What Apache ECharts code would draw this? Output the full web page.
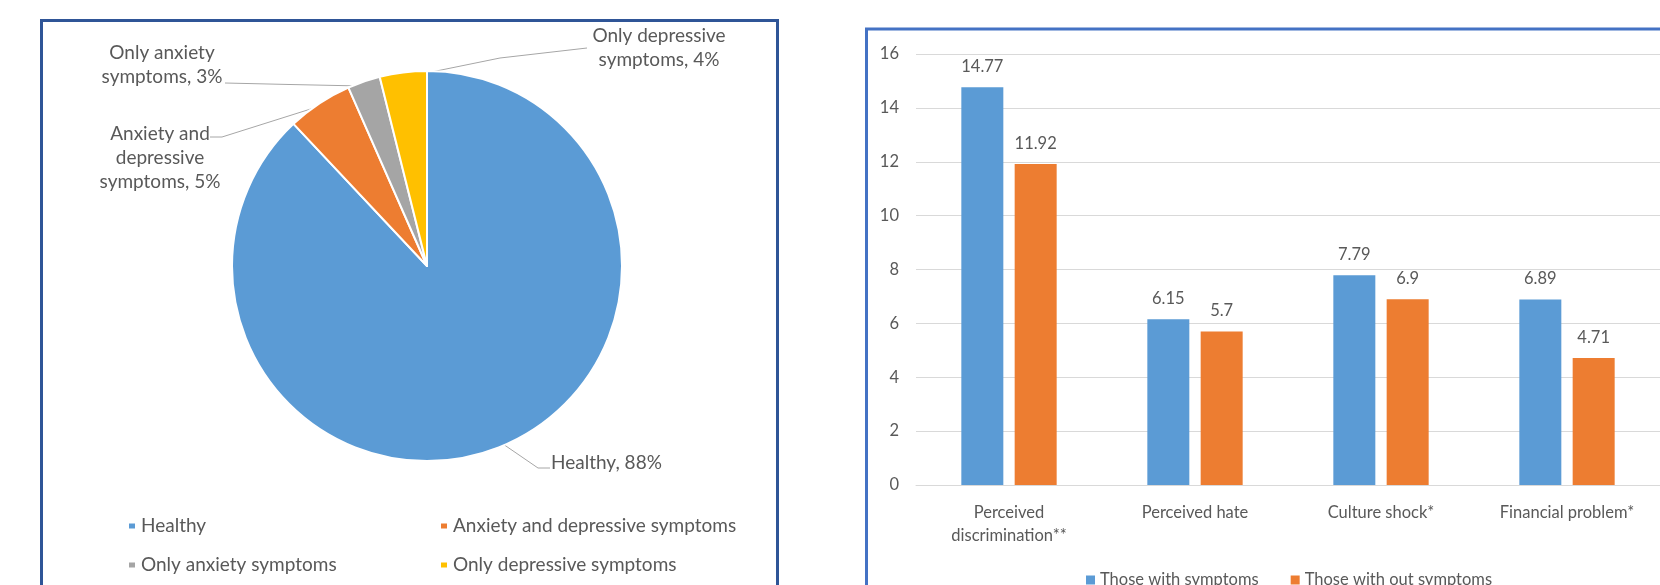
<!DOCTYPE html>
<html>
<head>
<meta charset="utf-8">
<script src="https://cdn.jsdelivr.net/npm/echarts@6/dist/echarts.min.js"></script>
<style>
html,body{margin:0;padding:0;background:#fff;}
#c{width:1660px;height:585px;}
</style>
</head>
<body>
<div id="c"></div>
<script>
// ---------- data ----------
const pieNames = ['Healthy', 'Anxiety and depressive symptoms', 'Only anxiety symptoms', 'Only depressive symptoms'];
const pieValues = [88.0, 5.4, 2.7, 3.9];
const pieLabelNames = ['Healthy', 'Anxiety and\ndepressive\nsymptoms', 'Only anxiety\nsymptoms', 'Only depressive\nsymptoms'];
const piePercentLabels = ['88%', '5%', '3%', '4%'];

const barCategories = ['Perceived\ndiscrimination**', 'Perceived hate', 'Culture shock*', 'Financial problem*'];
const withSymptoms = [14.77, 6.15, 7.79, 6.89];
const withoutSymptoms = [11.92, 5.7, 6.9, 4.71];
const seriesNames = ['Those with symptoms', 'Those with out symptoms'];
const yTicks = [0, 2, 4, 6, 8, 10, 12, 14, 16];

// ---------- styles / layout ----------
const FONT = 'Lato';
const TXT = '#595959';
const pieColors = ['#5B9BD5', '#ED7D31', '#A5A5A5', '#FFC000'];
const pieLabelLayout = [
  {x: 551, y: 463, align: 'left',   line: [[503, 444], [538, 468], [550, 468]]},
  {x: 160, y: 158, align: 'center', line: [[317, 107], [222, 137], [210, 137]]},
  {x: 162, y: 65,  align: 'center', line: [[362, 86], [290, 84.5], [225, 83]]},
  {x: 659, y: 48,  align: 'center', line: [[402, 78], [500, 58], [587, 48]]}
];
// legend slot positions for the pie (2 x 2 grid)
const pieLegendSlots = [[127, 516], [439, 516], [127, 555], [439, 555]];

const chart = echarts.init(document.getElementById('c'), null, {renderer: 'canvas'});

const pieLegends = pieNames.map((n, i) => ({
  data: [n], orient: 'horizontal', left: pieLegendSlots[i][0], top: pieLegendSlots[i][1], padding: 0,
  itemWidth: 8, itemHeight: 7, icon: 'rect',
  textStyle: {color: TXT, fontSize: 19, fontFamily: FONT, lineHeight: 20}
}));

const option = {
  animation: false,
  textStyle: {fontFamily: FONT},
  graphic: [
    {type: 'rect', shape: {x: 41.5, y: 20.5, width: 736, height: 620}, style: {fill: 'none', stroke: '#2F5597', lineWidth: 3}, z: 100},
    {type: 'rect', shape: {x: 866.5, y: 29, width: 900, height: 620}, style: {fill: 'none', stroke: '#4472C4', lineWidth: 3}, z: 100}
  ],
  legend: pieLegends.concat([
    {
      data: seriesNames, orient: 'horizontal', left: 1086, top: 570, padding: 0,
      itemWidth: 9, itemHeight: 9, itemGap: 32, icon: 'rect',
      textStyle: {color: TXT, fontSize: 16.5, fontFamily: FONT, lineHeight: 20}
    }
  ]),
  grid: {left: 916, top: 54, width: 756, bottom: 100, containLabel: false},
  xAxis: {
    type: 'category', data: barCategories,
    axisLine: {show: true, lineStyle: {color: '#D9D9D9', width: 1}},
    axisTick: {show: false},
    axisLabel: {color: TXT, fontSize: 16.5, fontFamily: FONT, lineHeight: 23, margin: 16, interval: 0}
  },
  yAxis: {
    type: 'value', min: yTicks[0], max: yTicks[yTicks.length - 1], interval: yTicks[1] - yTicks[0],
    axisLine: {show: false}, axisTick: {show: false},
    axisLabel: {color: TXT, fontSize: 16.5, fontFamily: FONT, margin: 17},
    splitLine: {lineStyle: {color: '#D9D9D9', width: 1}}
  },
  series: [
    {
      type: 'pie', center: [427, 266], radius: 195, startAngle: 90, clockwise: true,
      avoidLabelOverlap: false,
      data: pieNames.map((n, i) => ({name: n, value: pieValues[i], itemStyle: {color: pieColors[i]}})),
      itemStyle: {borderColor: '#fff', borderWidth: 2},
      label: {
        show: true, position: 'outside', color: TXT, fontSize: 19, fontFamily: FONT, lineHeight: 24,
        formatter: p => pieLabelNames[p.dataIndex] + ', ' + piePercentLabels[p.dataIndex]
      },
      labelLine: {show: true, length: 10, length2: 10, lineStyle: {color: '#A6A6A6', width: 1}},
      labelLayout: function (params) {
        const l = pieLabelLayout[params.dataIndex];
        return {x: l.x, y: l.y, align: l.align, verticalAlign: 'middle', labelLinePoints: l.line};
      },
      emphasis: {disabled: true}
    },
    {
      type: 'bar', name: seriesNames[0], data: withSymptoms, barWidth: 42, barGap: '27%',
      itemStyle: {color: '#5B9BD5'},
      label: {show: true, position: 'top', color: TXT, fontSize: 16.5, fontFamily: FONT, distance: 12}
    },
    {
      type: 'bar', name: seriesNames[1], data: withoutSymptoms, barWidth: 42, barGap: '27%',
      itemStyle: {color: '#ED7D31'},
      label: {show: true, position: 'top', color: TXT, fontSize: 16.5, fontFamily: FONT, distance: 12}
    }
  ]
};
chart.setOption(option);
</script>
</body>
</html>
